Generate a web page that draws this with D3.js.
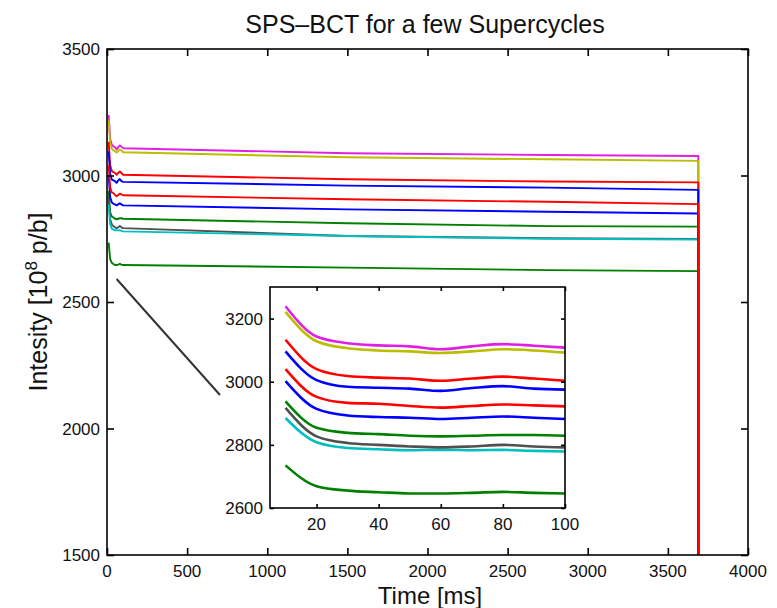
<!DOCTYPE html>
<html>
<head>
<meta charset="utf-8">
<script src="https://cdn.jsdelivr.net/npm/d3@7/dist/d3.min.js"></script>
<style>
  html, body { margin: 0; padding: 0; background: #fff; }
  svg { display: block; font-family: "Liberation Sans", Arial, Helvetica, sans-serif; }
</style>
</head>
<body>
<svg id="chart" width="777" height="608"></svg>
<script>
// ---------------- data ----------------
const titleText = "SPS\u2013BCT for a few Supercycles";
const xLabelText = "Time [ms]";
const mainXTicks = [0, 500, 1000, 1500, 2000, 2500, 3000, 3500, 4000];
const mainYTicks = [1500, 2000, 2500, 3000, 3500];
const insetXTicks = [20, 40, 60, 80, 100];
const insetYTicks = [2600, 2800, 3000, 3200];

// early samples (shown in inset), ms
const earlyTimes = [10, 20, 30, 40, 50, 60, 70, 80, 90, 100];
// later samples along the cycle, ms
const lateTimes = [1500, 2750, 3690];
// beam dump at the end of the cycle
const dumpTime = 3690;
const dumpValue = 1000;

const seriesNames = ["SC1", "SC2", "SC3", "SC4", "SC5", "SC6", "SC7", "SC8", "SC9", "SC10"];
const earlyValues = [
  [3239, 3143, 3122, 3115, 3112, 3103, 3112, 3119, 3114, 3108], // magenta
  [3221, 3128, 3106, 3099, 3096, 3091, 3096, 3103, 3099, 3092], // yellow
  [3133, 3040, 3018, 3013, 3010, 3003, 3010, 3016, 3010, 3003], // red
  [3096, 3005, 2984, 2981, 2978, 2971, 2980, 2986, 2978, 2975], // blue
  [3040, 2952, 2933, 2930, 2923, 2918, 2923, 2928, 2925, 2922], // red
  [3002, 2914, 2893, 2888, 2886, 2882, 2886, 2890, 2886, 2882], // blue
  [2938, 2854, 2838, 2834, 2829, 2827, 2829, 2831, 2831, 2829], // green
  [2917, 2827, 2806, 2800, 2795, 2792, 2795, 2800, 2795, 2792], // gray
  [2885, 2808, 2790, 2786, 2783, 2784, 2783, 2784, 2781, 2779], // cyan
  [2735, 2669, 2655, 2650, 2646, 2646, 2648, 2651, 2648, 2646]  // green
];
const lateValues = [
  [3088, 3081, 3077],
  [3072, 3064, 3058],
  [2985, 2976, 2973],
  [2960, 2952, 2943],
  [2906, 2896, 2887],
  [2866, 2857, 2850],
  [2811, 2800, 2798],
  [2761, 2752, 2749],
  [2761, 2750, 2747],
  [2636, 2626, 2622]
];
const seriesColors = ["#e020e0", "#bcbc00", "#ff0000", "#0000ff", "#ff0000",
                      "#0000ff", "#008000", "#505050", "#00bfbf", "#008000"];
// drawing order (later drawn on top)
const mainDrawOrder = [0, 1, 2, 3, 6, 7, 8, 9, 5, 4];
const insetDrawOrder = [1, 0, 2, 3, 4, 5, 6, 8, 7, 9];

// ---------------- layout ----------------
const svg = d3.select("#chart");
const M = { left: 107, right: 748, top: 49, bottom: 555 };
const I = { left: 270, right: 565, top: 287, bottom: 508 };

const x = d3.scaleLinear().domain([0, 4000]).range([M.left, M.right]);
const y = d3.scaleLinear().domain([1500, 3500]).range([M.bottom, M.top]);
const xi = d3.scaleLinear().domain([5, 100]).range([I.left, I.right]);
const yi = d3.scaleLinear().domain([2600, 3300]).range([I.bottom, I.top]);

svg.append("defs").append("clipPath").attr("id", "mainClip")
  .append("rect").attr("x", M.left).attr("y", M.top)
  .attr("width", M.right - M.left).attr("height", M.bottom - M.top);

// build series
const series = seriesNames.map((name, i) => {
  const pts = earlyTimes.map((t, j) => [t, earlyValues[i][j]])
    .concat(lateTimes.map((t, j) => [t, lateValues[i][j]]));
  pts.push([dumpTime, dumpValue]);
  return { name, color: seriesColors[i], pts, early: earlyTimes.map((t, j) => [t, earlyValues[i][j]]) };
});

// ---------------- main plot ----------------
const mainLine = d3.line().x(d => x(d[0])).y(d => y(d[1]));
const gMain = svg.append("g").attr("clip-path", "url(#mainClip)");
mainDrawOrder.forEach(i => {
  gMain.append("path").datum(series[i].pts)
    .attr("d", mainLine)
    .attr("fill", "none")
    .attr("stroke", series[i].color)
    .attr("stroke-width", 1.9)
    .attr("stroke-linejoin", "round");
});

// axes box + inward ticks
function boxAxes(g, xs, ys, xt, yt, box, tickLen, fontSize, xLabelY, yLabelX, sw) {
  g.append("rect").attr("x", box.left).attr("y", box.top)
    .attr("width", box.right - box.left).attr("height", box.bottom - box.top)
    .attr("fill", "none").attr("stroke", "#000").attr("stroke-width", sw);
  const bottomAx = d3.axisBottom(xs).tickValues(xt).tickSize(-tickLen).tickPadding(0).tickFormat("");
  const topAx = d3.axisTop(xs).tickValues(xt).tickSize(-tickLen).tickFormat("");
  const leftAx = d3.axisLeft(ys).tickValues(yt).tickSize(-tickLen).tickFormat("");
  const rightAx = d3.axisRight(ys).tickValues(yt).tickSize(-tickLen).tickFormat("");
  [[bottomAx, `translate(0,${box.bottom})`], [topAx, `translate(0,${box.top})`],
   [leftAx, `translate(${box.left},0)`], [rightAx, `translate(${box.right},0)`]].forEach(([ax, tr]) => {
    const a = g.append("g").attr("transform", tr).call(ax);
    a.select(".domain").remove();
    a.selectAll("line").attr("stroke", "#000").attr("stroke-width", sw);
  });
  g.append("g").selectAll("text").data(xt).join("text")
    .attr("x", d => xs(d)).attr("y", xLabelY)
    .attr("text-anchor", "middle").attr("font-size", fontSize).attr("fill", "#111")
    .text(d => d);
  g.append("g").selectAll("text").data(yt).join("text")
    .attr("x", yLabelX).attr("y", d => ys(d)).attr("dy", "0.36em")
    .attr("text-anchor", "end").attr("font-size", fontSize).attr("fill", "#111")
    .text(d => d);
}

boxAxes(svg.append("g"), x, y, mainXTicks, mainYTicks, M, 7, 17, 577, 100, 1.6);

// connector line to the inset
svg.append("line")
  .attr("x1", x(60)).attr("y1", 279)
  .attr("x2", 220).attr("y2", 395)
  .attr("stroke", "#333").attr("stroke-width", 2);

// ---------------- inset ----------------
const gIn = svg.append("g");
gIn.append("rect").attr("x", I.left).attr("y", I.top)
  .attr("width", I.right - I.left).attr("height", I.bottom - I.top)
  .attr("fill", "#fff");
const insetLine = d3.line().x(d => xi(d[0])).y(d => yi(d[1])).curve(d3.curveMonotoneX);
insetDrawOrder.forEach(i => {
  gIn.append("path").datum(series[i].early)
    .attr("d", insetLine)
    .attr("fill", "none")
    .attr("stroke", series[i].color)
    .attr("stroke-width", 2.6)
    .attr("stroke-linejoin", "round");
});
boxAxes(gIn, xi, yi, insetXTicks, insetYTicks, I, 4, 17, 530, 263, 1.6);

// ---------------- labels ----------------
svg.append("text").attr("x", 425).attr("y", 33)
  .attr("text-anchor", "middle").attr("font-size", 25).attr("fill", "#111")
  .text(titleText);
svg.append("text").attr("x", 430).attr("y", 604)
  .attr("text-anchor", "middle").attr("font-size", 24).attr("fill", "#111")
  .text(xLabelText);
const yl = svg.append("text")
  .attr("transform", "translate(47,302) rotate(-90)")
  .attr("text-anchor", "middle").attr("font-size", 25).attr("fill", "#111");
yl.append("tspan").text("Intesity [10");
yl.append("tspan").attr("font-size", 17).attr("dy", -10).text("8");
yl.append("tspan").attr("dy", 10).text(" p/b]");
</script>
</body>
</html>
